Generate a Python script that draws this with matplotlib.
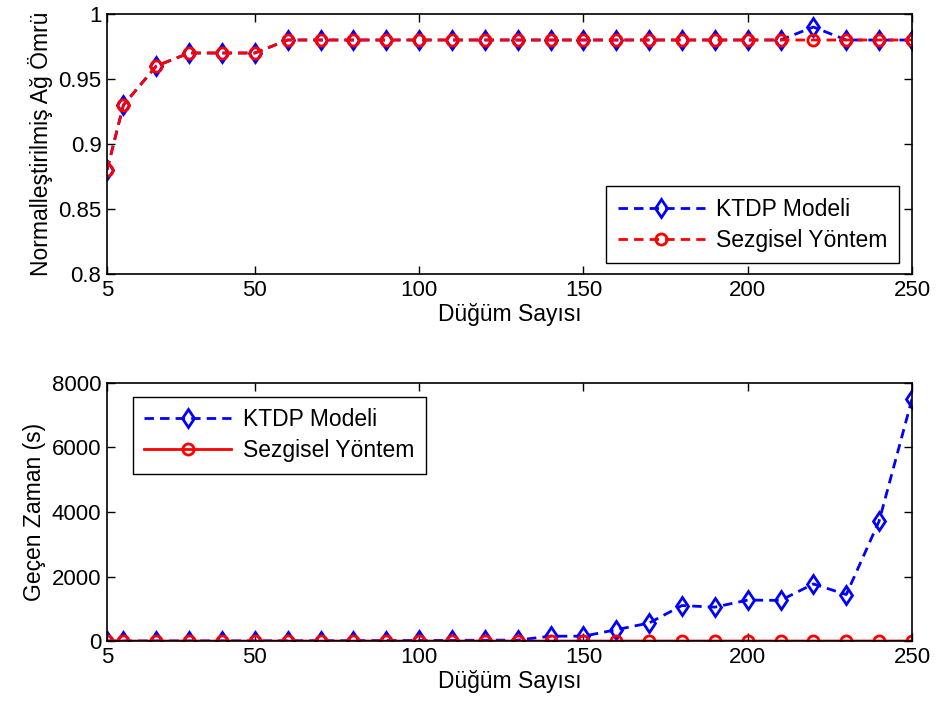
import matplotlib.pyplot as plt
import numpy as np

plt.rcParams['font.family'] = ['Liberation Sans', 'DejaVu Sans']

nodes = [5, 10, 20, 30, 40, 50, 60, 70, 80, 90, 100, 110, 120, 130,
         140, 150, 160, 170, 180, 190, 200, 210, 220, 230, 240, 250]

# normalised network lifetime
life_ktdp = [0.88, 0.93, 0.96, 0.97, 0.97, 0.97, 0.98, 0.98, 0.98, 0.98, 0.98, 0.98, 0.98,
             0.98, 0.98, 0.98, 0.98, 0.98, 0.98, 0.98, 0.98, 0.98, 0.99, 0.98, 0.98, 0.98]
life_heur = [0.88, 0.93, 0.96, 0.97, 0.97, 0.97, 0.98, 0.98, 0.98, 0.98, 0.98, 0.98, 0.98,
             0.98, 0.98, 0.98, 0.98, 0.98, 0.98, 0.98, 0.98, 0.98, 0.98, 0.98, 0.98, 0.98]

# elapsed time (s)
time_ktdp = [1, 2, 3, 4, 5, 6, 8, 10, 12, 15, 18, 22, 26, 30,
             150, 150, 350, 560, 1100, 1050, 1270, 1260, 1770, 1440, 3720, 7500]
time_heur = [0, 0, 0, 0, 0, 0, 0, 0, 0, 0, 0, 0, 0, 0,
             0, 0, 0, 0, 0, 0, 0, 0, 0, 0, 0, 1]

xticks = [5, 50, 100, 150, 200, 250]
fs = 16.5

fig = plt.figure(figsize=(9.37, 7.18), dpi=100)
ax1 = fig.add_axes([0.1142, 0.6184, 0.8591, 0.3621])
ax2 = fig.add_axes([0.1142, 0.1072, 0.8591, 0.3594])

dash = (0, (3.4, 2.2))
blue_kw = dict(color='#0000ff', lw=2, marker='d', ms=9.5, mfc='none', mew=2)
red_kw = dict(color='#ff0000', lw=2, marker='o', ms=8, mfc='none', mew=2)
leg_kw = dict(fontsize=fs, fancybox=False, edgecolor='black', framealpha=1,
              handlelength=3.8, handletextpad=0.5, borderpad=0.5,
              labelspacing=0.35, borderaxespad=0)

ax1.plot(nodes, life_ktdp, ls=dash, label='KTDP Modeli', **blue_kw)
ax1.plot(nodes, life_heur, ls=dash, label='Sezgisel Yöntem', **red_kw)
ax1.set_ylim(0.8, 1.0)
ax1.set_yticks([0.8, 0.85, 0.9, 0.95, 1.0])
ax1.set_yticklabels(['0.8', '0.85', '0.9', '0.95', '1'])
ax1.set_ylabel('Normalleştirilmiş Ağ Ömrü', fontsize=fs)
ax1.legend(loc='lower right', bbox_to_anchor=(0.984, 0.042), **leg_kw)

ax2.plot(nodes, time_ktdp, ls=dash, label='KTDP Modeli', **blue_kw)
ax2.plot(nodes, time_heur, ls='-', label='Sezgisel Yöntem', **red_kw)
ax2.set_ylim(0, 8000)
ax2.set_yticks([0, 2000, 4000, 6000, 8000])
ax2.set_ylabel('Geçen Zaman (s)', fontsize=fs)
ax2.legend(loc='upper left', bbox_to_anchor=(0.032, 0.946), **leg_kw)

for ax in (ax1, ax2):
    ax.set_xlim(5, 250)
    ax.set_xticks(xticks)
    ax.set_xlabel('Düğüm Sayısı', fontsize=fs, labelpad=2)
    ax.tick_params(direction='in', top=True, right=True, labelsize=fs - 0.5,
                   length=6, width=1, pad=4)
    for s in ax.spines.values():
        s.set_linewidth(1.2)
    for lab in ax.get_xticklabels() + ax.get_yticklabels():
        lab.set_clip_on(False)

fig.savefig('out.png', dpi=100)
